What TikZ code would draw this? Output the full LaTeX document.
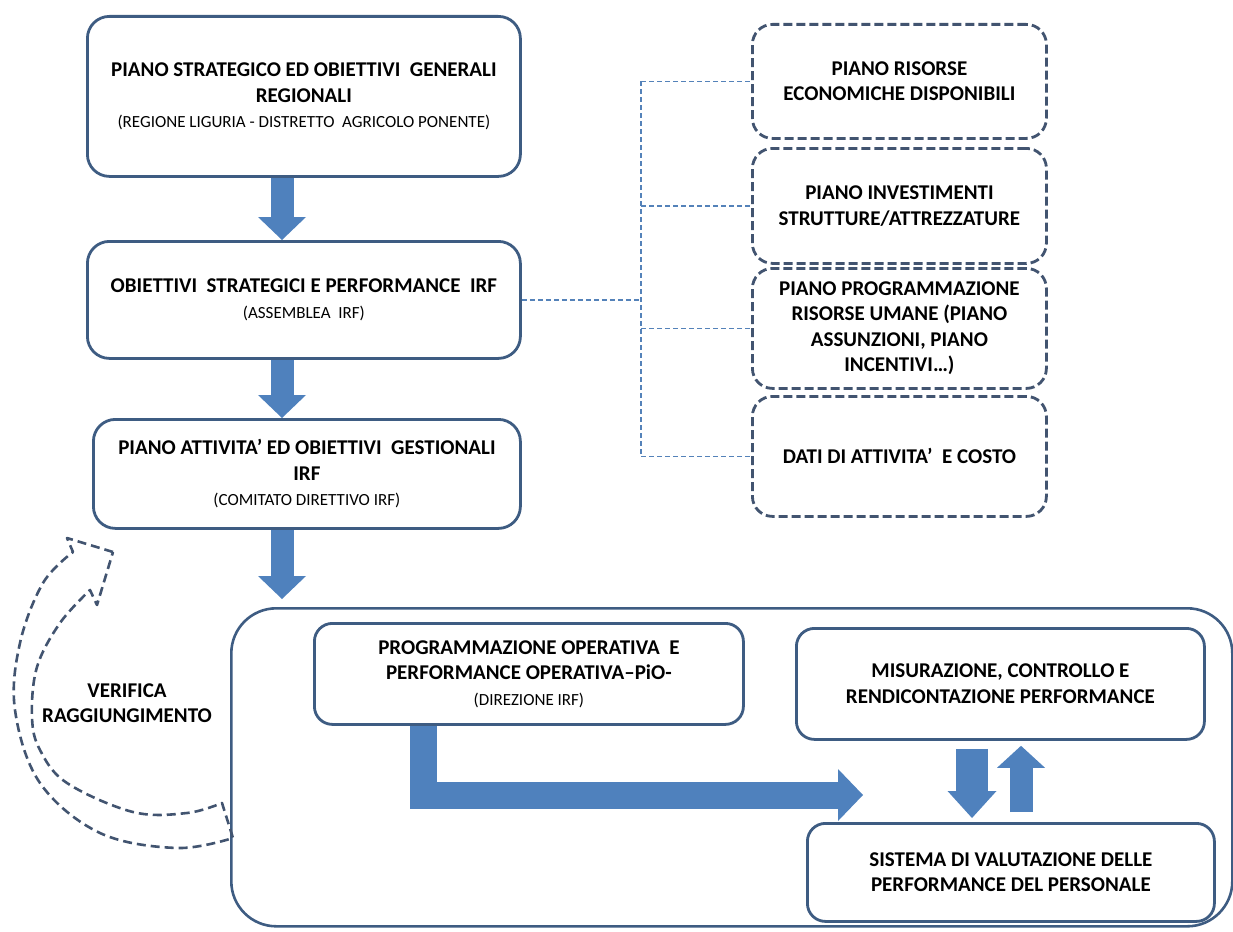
\documentclass[tikz,border=0pt]{standalone}
\usepackage{fontspec}
\setmainfont{Carlito}
\usetikzlibrary{arrows.meta,calc}
\definecolor{frameBlue}{RGB}{62,92,130}
\definecolor{arrowBlue}{RGB}{79,129,189}
\definecolor{dashNavy}{RGB}{66,84,112}
\definecolor{treeBlue}{RGB}{84,130,185}
\newcommand{\titlefont}{\fontsize{21}{25.5}\selectfont\bfseries}
\newcommand{\subfont}{\fontsize{17}{25.5}\selectfont\mdseries}

\begin{document}
\begin{tikzpicture}[x=1pt,y=-1pt,
    plainbox/.style={draw=frameBlue,line width=2.8pt,fill=white,rounded corners=22pt,
      anchor=north west,align=center,inner sep=2pt,font=\titlefont},
    dashbox/.style={plainbox,draw=dashNavy,dash pattern=on 9pt off 4pt,rounded corners=20pt},
    outerframe/.style={draw=frameBlue,line width=2.6pt,rounded corners=45pt,anchor=north west},
    treeline/.style={treeBlue,line width=1.4pt,dash pattern=on 5pt off 3pt},
    verifline/.style={dashNavy,line width=2.6pt,dash pattern=on 9pt off 5pt,line join=round}]
  \useasboundingbox (0,0) rectangle (1233,931);
  % big frame at the bottom
  \node[outerframe,minimum width=1001,minimum height=318] (outer) at (230,607) {};
  % left column
  \node[plainbox,minimum width=433,minimum height=160] (boxA) at (86,15)
    {PIANO STRATEGICO ED OBIETTIVI~ GENERALI\\REGIONALI\\
     {\subfont (REGIONE LIGURIA - DISTRETTO~ AGRICOLO PONENTE)}};
  \node[plainbox,minimum width=433,minimum height=117] (boxB) at (86,240)
    {OBIETTIVI~ STRATEGICI E PERFORMANCE~ IRF\\{\subfont (ASSEMBLEA~ IRF)}};
  \node[plainbox,minimum width=427,minimum height=109] (boxC) at (92,418)
    {PIANO ATTIVITA’ ED OBIETTIVI~ GESTIONALI\\IRF\\{\subfont (COMITATO DIRETTIVO IRF)}};
  % right column, dashed
  \node[dashbox,minimum width=294,minimum height=114] (res) at (751,23)
    {PIANO RISORSE\\ECONOMICHE DISPONIBILI};
  \node[dashbox,minimum width=294,minimum height=115] (inv) at (751,147)
    {PIANO INVESTIMENTI\\STRUTTURE/ATTREZZATURE};
  \node[dashbox,minimum width=294,minimum height=120] (hum) at (751,267)
    {PIANO PROGRAMMAZIONE\\RISORSE UMANE (PIANO\\ASSUNZIONI, PIANO\\INCENTIVI…)};
  \node[dashbox,minimum width=294,minimum height=120] (dat) at (751,395)
    {DATI DI ATTIVITA’~ E COSTO};
  % inside the frame
  \node[plainbox,rounded corners=18pt,minimum width=429,minimum height=101] (pio) at (313,622)
    {PROGRAMMAZIONE OPERATIVA~ E\\PERFORMANCE OPERATIVA–PiO-\\{\subfont (DIREZIONE IRF)}};
  \node[plainbox,rounded corners=18pt,minimum width=408,minimum height=111] (mis) at (795,627)
    {MISURAZIONE, CONTROLLO E\\RENDICONTAZIONE PERFORMANCE};
  \node[plainbox,rounded corners=18pt,minimum width=407,minimum height=98] (sis) at (806,822)
    {SISTEMA DI VALUTAZIONE DELLE\\PERFORMANCE DEL PERSONALE};
  \node[font=\titlefont,align=center] (verif) at (127,703) {VERIFICA\\RAGGIUNGIMENTO};
  % dashed tree
  \coordinate (trunk) at (641,0);
  \draw[treeline] (boxB.east) -- (boxB.east -| trunk);
  \draw[treeline] (res.west -| trunk) -- (dat.west -| trunk);
  \foreach \n in {res,inv,hum,dat}
    \draw[treeline] (\n.west -| trunk) -- (\n.west);
  % block arrows
  \coordinate (spine) at ($(boxA.south west)+(196,0)$);
  \foreach \a/\b in {boxA/boxB,boxB/boxC}
    \draw[arrowBlue,line width=23pt,-{Triangle[width=48pt,length=23pt,line width=0pt]}]
      (\a.south -| spine) -- (\b.north -| spine);
  \draw[arrowBlue,line width=23pt,-{Triangle[width=48pt,length=23pt,line width=0pt]}]
    (boxC.south -| spine) -- ($(outer.north -| spine)+(0,-8)$);
  \coordinate (lhead) at ($(sis.north west)+(57,-27)$);
  \draw[arrowBlue,line width=27pt,-{Triangle[width=52pt,length=25pt,line width=0pt]}]
    ($(pio.south west)+(110,0)$) |- (lhead);
  \draw[arrowBlue,line width=32pt,-{Triangle[width=49pt,length=27pt,line width=0pt]}]
    ($(mis.south west)+(177,8)$) -- ($(sis.north west)+(166,-4)$);
  \draw[arrowBlue,line width=23pt,-{Triangle[width=48pt,length=22pt,line width=0pt]}]
    ($(sis.north west)+(215,-10)$) -- ($(mis.south west)+(226,5)$);
  % curved dashed arrow
  \draw[verifline] (113,552) -- (67,538)
    -- plot[smooth,tension=0.6] coordinates {(73,552) (43,583) (20,643) (15,710) (40,783) (100,833) (177,848) (233,838)}
    -- plot[smooth,tension=0.6] coordinates {(222,803) (187,813) (133,812) (67,783) (40,750) (32,717) (37,667) (60,623) (90,590)}
    -- (97,605) -- cycle;
\end{tikzpicture}
\end{document}
